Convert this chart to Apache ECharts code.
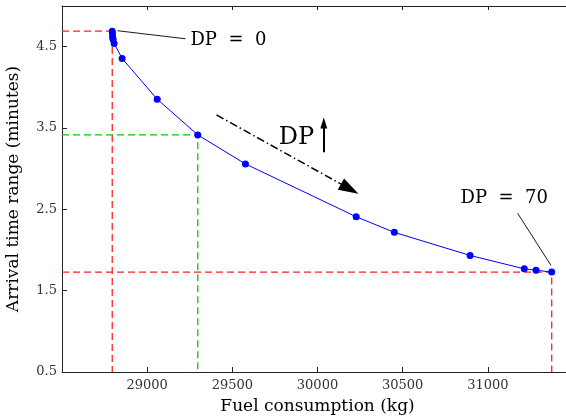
<!DOCTYPE html>
<html>
<head>
<meta charset="utf-8">
<script src="https://cdn.jsdelivr.net/npm/echarts@6/dist/echarts.min.js"></script>
<style>
html, body { margin: 0; padding: 0; background: #fff; }
#main { width: 566px; height: 418px; }
</style>
</head>
<body>
<div id="main"></div>
<script>
var chart = echarts.init(document.getElementById('main'));

// pareto front: fuel (kg) vs arrival time range (min), DP = 0 ... 70
var fuel = [28795, 28796, 28797, 28800, 28806, 28853, 29059, 29297, 29577, 30227, 30451, 30896, 31214, 31283, 31375];
var timeRange = [4.69, 4.66, 4.62, 4.59, 4.54, 4.355, 3.854, 3.415, 3.058, 2.409, 2.217, 1.933, 1.768, 1.752, 1.728];

// which points get dashed guide lines, and their colour
var guideIndex = [0, 14, 7];
var guideColor = ['#ff2020', '#ff2020', '#00cc00'];

// annotation texts
var noteText = ['DP  =  0', 'DP  =  70', 'DP'];
var noteX = [29254, 30840, 29772];
var noteY = [4.575, 2.639, 3.384];
var noteSize = [18, 18, 24];

// leader lines from the texts to the end points
var leaderFrom = [[28826, 4.696], [31175, 2.451]];
var leaderTo = [[29225, 4.597], [31371, 1.810]];

// arrows: dash-dot trend arrow and the small "up" arrow
var trendArrow = [[29407, 3.661], [30189, 2.751]];
var upArrow = [[30037, 3.202], [30037, 3.563]];

var xMin = 28500, xMax = 31500, yMin = 0.5, yMax = 5;
var font = 'DejaVu Serif';

var pts = fuel.map(function (f, i) { return [f, timeRange[i]]; });

var series = [];

guideIndex.forEach(function (k, i) {
    series.push({
        type: 'line',
        data: [[xMin, timeRange[k]], [fuel[k], timeRange[k]], [fuel[k], yMin]],
        symbol: 'none',
        silent: true,
        lineStyle: { color: guideColor[i], width: 1.3, type: [7, 4] },
        z: 1
    });
});

leaderFrom.forEach(function (p, i) {
    series.push({
        type: 'line',
        data: [p, leaderTo[i]],
        symbol: 'none',
        silent: true,
        lineStyle: { color: '#000', width: 0.9 },
        z: 2
    });
});

series.push({
    name: 'front',
    type: 'line',
    data: pts,
    symbol: 'circle',
    symbolSize: 7,
    itemStyle: { color: '#0000ff' },
    lineStyle: { color: '#0000ff', width: 1 },
    z: 3,
    markLine: {
        silent: true,
        animation: false,
        label: { show: false },
        data: [
            [
                { coord: trendArrow[0], symbol: 'none' },
                { coord: trendArrow[1], symbol: 'triangle', symbolSize: [13, 20] }
            ],
            [
                { coord: upArrow[0], symbol: 'none', lineStyle: { type: 'solid', width: 2 } },
                { coord: upArrow[1], symbol: 'triangle', symbolSize: [7, 11] }
            ]
        ],
        lineStyle: { color: '#000', width: 1.5, type: [8, 3, 1.5, 3] }
    }
});

series.push({
    type: 'scatter',
    symbolSize: 0,
    silent: true,
    itemStyle: { opacity: 1 },
    data: noteText.map(function (t, i) {
        return {
            value: [noteX[i], noteY[i]],
            label: { formatter: t, fontSize: noteSize[i] }
        };
    }),
    label: {
        show: true,
        position: 'right',
        distance: 0,
        align: 'left',
        verticalAlign: 'middle',
        fontFamily: font,
        color: '#000'
    },
    z: 4
});

var option = {
    animation: false,
    grid: { left: 62, top: 6, right: -7, bottom: 46, outerBoundsMode: 'none' },
    xAxis: [{
        type: 'value',
        min: xMin,
        max: xMax,
        interval: 500,
        name: 'Fuel consumption (kg)',
        nameLocation: 'middle',
        nameGap: 26,
        nameTextStyle: { fontFamily: font, fontSize: 17, color: '#000' },
        axisLine: { lineStyle: { color: '#222', width: 1 } },
        axisTick: { inside: true, length: 5, lineStyle: { color: '#222' } },
        axisLabel: {
            fontFamily: font, fontSize: 13, color: '#333', margin: 7,
            showMinLabel: false, showMaxLabel: false,
            formatter: function (v) { return String(v); }
        },
        splitLine: { show: false }
    }, {
        type: 'value',
        position: 'top',
        min: xMin,
        max: xMax,
        interval: 500,
        axisLine: { lineStyle: { color: '#222', width: 1 } },
        axisTick: { inside: true, length: 4, lineStyle: { color: '#222' } },
        axisLabel: { show: false },
        splitLine: { show: false }
    }],
    yAxis: {
        type: 'value',
        min: yMin,
        max: yMax,
        interval: 1,
        name: 'Arrival time range (minutes)',
        nameLocation: 'middle',
        nameGap: 40,
        nameTextStyle: { fontFamily: font, fontSize: 17, color: '#000' },
        axisLine: { show: true, lineStyle: { color: '#222', width: 1 } },
        axisTick: { show: true, inside: true, length: 5, lineStyle: { color: '#222' } },
        axisLabel: {
            fontFamily: font, fontSize: 13, color: '#333', margin: 5,
            showMaxLabel: false,
            formatter: function (v) { return v.toFixed(1); }
        },
        splitLine: { show: false }
    },
    series: series
};

chart.setOption(option);
</script>
</body>
</html>
